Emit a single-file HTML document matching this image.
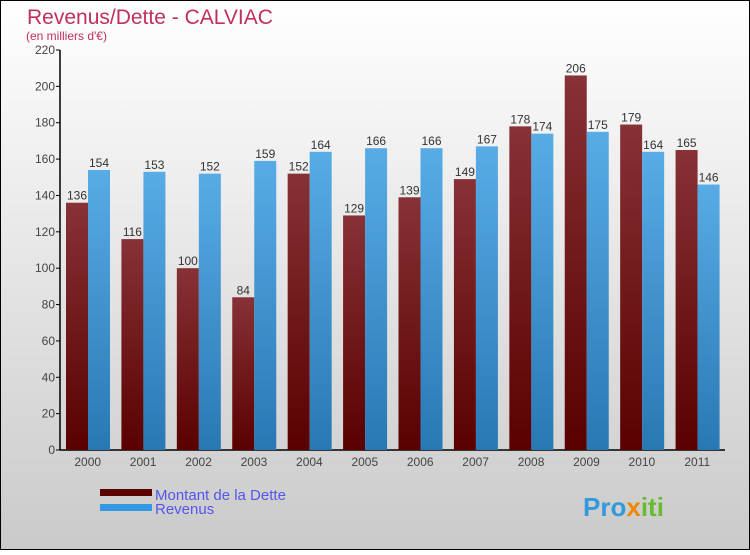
<!DOCTYPE html>
<html><head><meta charset="utf-8"><style>
body{margin:0}
#c{width:750px;height:550px;position:relative;font-family:"Liberation Sans",sans-serif}
</style></head><body>
<div id="c">
<svg width="750" height="550" xmlns="http://www.w3.org/2000/svg">
<defs>
<linearGradient id="bg" x1="0" y1="0" x2="0" y2="1"><stop offset="0" stop-color="#ffffff"/><stop offset="1" stop-color="#cacaca"/></linearGradient>
<linearGradient id="gd" x1="0" y1="0" x2="0" y2="1"><stop offset="0" stop-color="#863236"/><stop offset="1" stop-color="#5a0000"/></linearGradient>
<linearGradient id="gr" x1="0" y1="0" x2="0" y2="1"><stop offset="0" stop-color="#58ace6"/><stop offset="1" stop-color="#2878b4"/></linearGradient>
</defs>
<rect x="0.5" y="0.5" width="749" height="549" fill="url(#bg)" stroke="#000"/>
<text x="27" y="24" font-size="21" fill="#c0305a">Revenus/Dette - CALVIAC</text>
<text x="26" y="40" font-size="12" fill="#c0305a">(en milliers d'€)</text>
<g id="axes"></g>
<g id="bars"></g>
<rect x="100" y="489" width="52" height="7" fill="#5a0000"/>
<rect x="100" y="504" width="52" height="7" fill="#3399e0"/>
<text x="155" y="500" font-size="15" fill="#5555ee">Montant de la Dette</text>
<text x="155" y="514" font-size="15" fill="#5555ee">Revenus</text>
<text x="583" y="516" font-size="26" font-weight="bold" fill="#3399dd">Pro<tspan fill="#ee8800">x</tspan><tspan fill="#66bb33">iti</tspan></text>
</svg>
</div>
<script>
const years=["2000","2001","2002","2003","2004","2005","2006","2007","2008","2009","2010","2011"];
const dette=[136,116,100,84,152,129,139,149,178,206,179,165];
const revenus=[154,153,152,159,164,166,166,167,174,175,164,146];
const yTicks=[0,20,40,60,80,100,120,140,160,180,200,220];
const NS="http://www.w3.org/2000/svg";
const x0=60,x1=725,y0=450,yTop=50,yMax=220;
const gw=(x1-x0)/years.length;
function yS(v){return y0-(v/yMax)*(y0-yTop);}
function mk(t,a,p){const e=document.createElementNS(NS,t);for(const k in a)e.setAttribute(k,a[k]);p.appendChild(e);return e;}
const ax=document.getElementById('axes'),bg=document.getElementById('bars');
yTicks.forEach(v=>{
 const t=mk('text',{x:x0-5,y:yS(v)+4,'font-size':12,fill:'#444','text-anchor':'end'},ax);
 t.textContent=v;
 
 
 const l=mk('line',{x1:x0-4,x2:x0,y1:yS(v),y2:yS(v),stroke:'#000'},ax);
 
 
});
years.forEach((yr,i)=>{
 const gx=x0+i*gw;
 const t=mk('text',{x:gx+gw/2,y:y0+16,'font-size':12,fill:'#444','text-anchor':'middle'},ax);
 t.textContent=yr;
 
 
 const d=mk('rect',{x:gx+6,y:yS(dette[i]),width:22,height:y0-yS(dette[i]),fill:'url(#gd)'},bg);
 
 
 const r=mk('rect',{x:gx+28,y:yS(revenus[i]),width:22,height:y0-yS(revenus[i]),fill:'url(#gr)'},bg);
 
 
 const dl=mk('text',{x:gx+17,y:yS(dette[i])-3,'font-size':12,fill:'#333','text-anchor':'middle'},bg);
 dl.textContent=dette[i];
 
 
 const rl=mk('text',{x:gx+39,y:yS(revenus[i])-3,'font-size':12,fill:'#333','text-anchor':'middle'},bg);
 rl.textContent=revenus[i];
 
 
});
const ya=mk('line',{x1:x0,x2:x0,y1:yTop,y2:y0,stroke:'#000','stroke-width':1.5},ax);


const xa=mk('line',{x1:x0,x2:x1,y1:y0,y2:y0,stroke:'#000','stroke-width':1.5},ax);


</script>
</body></html>
